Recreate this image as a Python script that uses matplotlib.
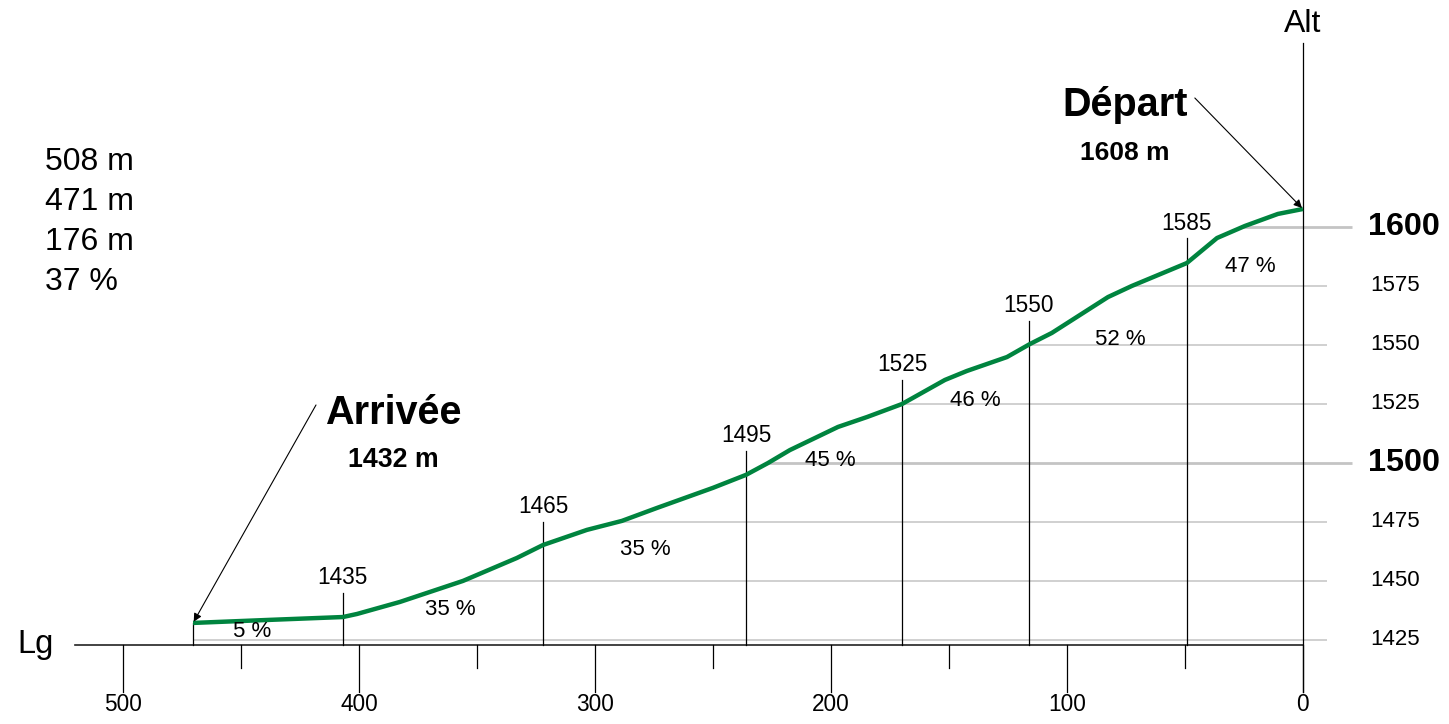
"""
Profil altimétrique : Départ 1608 m -> Arrivée 1432 m.
"""
import matplotlib.pyplot as plt
import numpy as np

# --- profile data (distance from the start in m, altitude in m) ---
dist = [470.3, 437.7, 406.8, 400.8, 382.6, 355.9, 333.1, 322.0, 303.4, 288.6,
        273.7, 250.0, 236.0, 226.7, 217.4, 197.0, 184.7, 169.9, 151.7, 142.4,
        125.4, 115.7, 106.4, 82.6, 72.5, 49.2, 36.4, 24.6, 10.6, 0.0]
alt = [1432.2, 1433.5, 1434.7, 1436.0, 1441.1, 1450.0, 1459.7, 1465.2, 1471.6, 1475.4,
       1480.9, 1489.4, 1494.9, 1499.9, 1505.4, 1515.2, 1519.4, 1524.9, 1535.1, 1538.9,
       1544.8, 1550.3, 1555.0, 1570.2, 1574.9, 1584.6, 1595.2, 1600.3, 1605.4, 1607.5]

# altitude markers along the route
marker_dist = [406.8, 322.0, 236.0, 169.9, 116.1, 49.2]
marker_alt = [1435, 1465, 1495, 1525, 1550, 1585]

# slope labels per section
slopes = ["5 %", "35 %", "35 %", "45 %", "46 %", "52 %", "47 %"]
slope_pos = [(445.3, 1428.4), (361.4, 1438.1), (278.8, 1463.5), (200.4, 1500.8),
             (139.0, 1526.6), (77.5, 1552.4), (22.5, 1583.3)]

# summary block (top left)
summary = ["508 m", "471 m", "176 m", "37 %"]

alt_levels = [1425, 1450, 1475, 1500, 1525, 1550, 1575, 1600]
bold_levels = [1500, 1600]
dist_major = [0, 100, 200, 300, 400, 500]
dist_minor = [50, 150, 250, 350, 450]

start_alt, end_alt = 1608, 1432

GREEN = "#00843f"
GRID = "#c4c4c4"
plt.rcParams["font.family"] = ["Liberation Sans", "DejaVu Sans"]

fig = plt.figure(figsize=(14.49, 7.24), dpi=100)
ax = fig.add_axes([0, 0, 1, 1])
ax.set_xlim(552.1, -61.9)
ax.set_ylim(1389.4, 1696.0)
ax.axis("off")

base = 1422.9      # altitude of the Lg baseline
x_left = 520.3     # left end of the baseline

# horizontal altitude lines, starting where the profile crosses them
for lvl in alt_levels:
    x0 = np.interp(lvl, alt, dist)
    bold = lvl in bold_levels
    x1 = -20.8 if bold else -10.2
    ax.plot([x0, x1], [lvl, lvl], color=GRID, lw=2.0 if bold else 1.1,
            solid_capstyle="butt", zorder=1)
    ax.text(-42.8 if bold else -39.0, lvl, str(lvl), ha="center", va="center",
            fontsize=23.3 if bold else 16, fontweight="bold" if bold else "normal")

# baseline and altitude axis
ax.plot([x_left, 0], [base, base], color="#222222", lw=1.2, zorder=2)
ax.plot([0, 0], [1403.0, 1677.8], color="black", lw=0.9, zorder=2)
ax.text(0, 1686.0, "Alt", ha="center", va="center", fontsize=23)
ax.text(536.9, base, "Lg", ha="center", va="center", fontsize=23.5)

# distance ticks
for d in dist_major:
    ax.plot([d, d], [base, 1403.0], color="black", lw=0.9, zorder=2)
    ax.text(d, 1397.5, str(d), ha="center", va="center", fontsize=16.3)
for d in dist_minor:
    ax.plot([d, d], [base, 1413.1], color="black", lw=0.9, zorder=2)

# altitude markers
ax.plot([dist[0], dist[0]], [base, alt[0]], color="black", lw=0.9, zorder=2)
for d, a in zip(marker_dist, marker_alt):
    ax.plot([d, d], [base, a + 10], color="black", lw=0.9, zorder=2)
    ax.text(d, a + 13.8, str(a), ha="center", va="baseline", fontsize=16.3)

# profile
ax.plot(dist, alt, color=GREEN, lw=3.2, solid_capstyle="butt", zorder=3)

# slope labels
for s, (x, y) in zip(slopes, slope_pos):
    ax.text(x, y, s, ha="center", va="center", fontsize=16, zorder=4)

# summary block
for i, s in enumerate(summary):
    ax.text(533.1, 1627.4 - i * 16.95, s, ha="left", va="center", fontsize=23)

# start / finish annotations
arrow = dict(arrowstyle="-|>", lw=0.8, color="black", mutation_scale=12,
             shrinkA=0, shrinkB=1)
ax.text(75.4, 1651.5, "Départ", ha="center", va="center", fontsize=28.5,
        fontweight="bold")
ax.text(75.4, 1631.2, f"{start_alt} m", ha="center", va="center", fontsize=19,
        fontweight="bold")
ax.annotate("", xy=(dist[-1], alt[-1]), xytext=(45.8, 1654.5), arrowprops=arrow)

ax.text(385.6, 1521.1, "Arrivée", ha="center", va="center", fontsize=28.5,
        fontweight="bold")
ax.text(385.6, 1501.2, f"{end_alt} m", ha="center", va="center", fontsize=19.3,
        fontweight="bold")
ax.annotate("", xy=(dist[0], alt[0]), xytext=(418.2, 1524.5), arrowprops=arrow)

fig.savefig("out.png", dpi=100)
